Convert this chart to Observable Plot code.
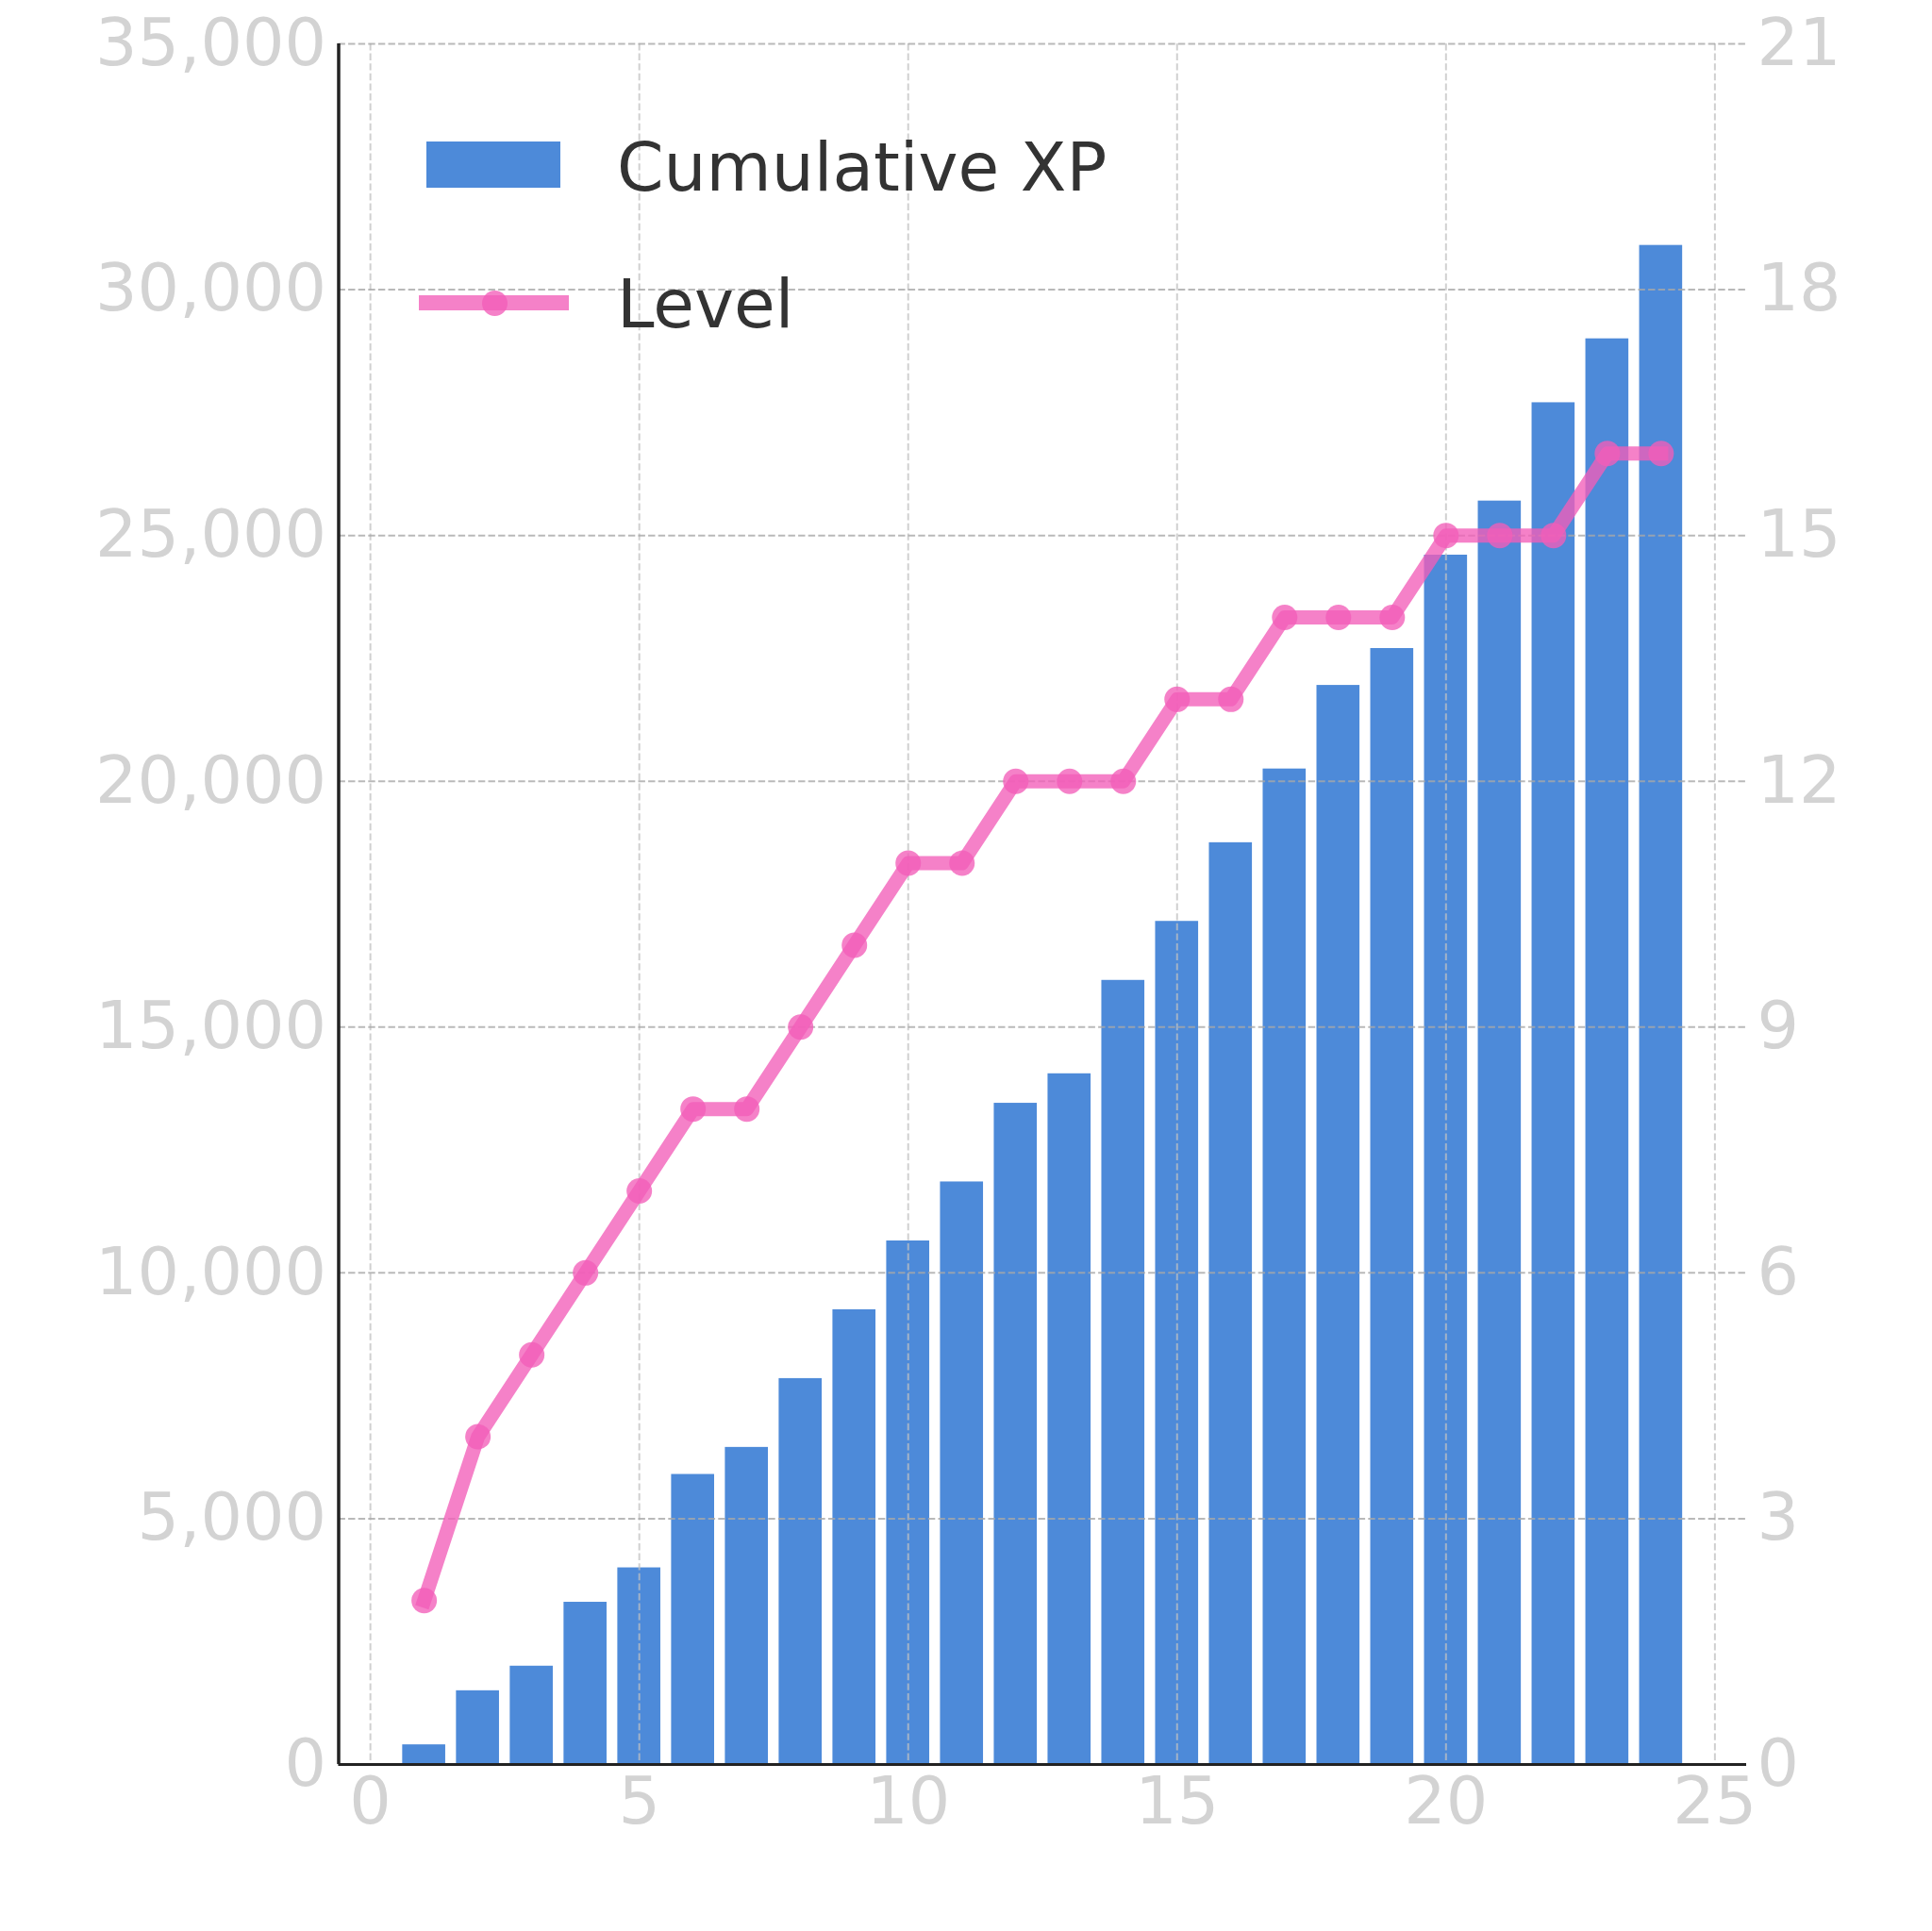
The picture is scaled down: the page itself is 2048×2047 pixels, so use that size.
<!DOCTYPE html>
<html>
<head>
<meta charset="utf-8">
<script src="https://cdn.jsdelivr.net/npm/d3@7"></script>
<script src="https://cdn.jsdelivr.net/npm/@observablehq/plot@0.6"></script>
<style>
  body { margin: 0; background: #fff; }
  #wrap { position: relative; width: 2048px; height: 2047px; font-family: "DejaVu Sans", sans-serif; }
  .abs { position: absolute; }
  .lgtext { position: absolute; font-size: 71px; line-height: 1; color: #333; white-space: nowrap; }
</style>
</head>
<body>
<div id="wrap"></div>
<script>
// ---- data ----
const sessions = [1, 2, 3, 4, 5, 6, 7, 8, 9, 10, 11, 12, 13, 14, 15, 16, 17, 18, 19, 20, 21, 22, 23, 24];
const cumulativeXP = [400, 1500, 2000, 3300, 4000, 5900, 6450, 7850, 9250, 10650, 11850, 13450,
                      14050, 15950, 17150, 18750, 20250, 21950, 22700, 24600, 25700, 27700, 29000, 30900];
const playerLevel = [2, 4, 5, 6, 7, 8, 8, 9, 10, 11, 11, 12, 12, 12, 13, 13, 14, 14, 14, 15, 15, 15, 16, 16];
const xTicks = [0, 5, 10, 15, 20, 25];
const xpTicks = [0, 5000, 10000, 15000, 20000, 25000, 30000, 35000];
const levelTicks = [0, 3, 6, 9, 12, 15, 18, 21];
const seriesNames = ["Cumulative XP", "Level"];

const xDomain = [-0.59, 25.59];
const xpMax = 35000, levelMax = 21;
const ratio = xpMax / levelMax;

const barColor = "#4d8ad9";
const lineColor = "#f25eb9";

const data = sessions.map((x, i) => ({ x, xp: cumulativeXP[i], level: playerLevel[i] }));

const gridV = { stroke: "#c0c0c0", strokeOpacity: 0.75, strokeWidth: 2, strokeDasharray: "7.4,3.2" };
const gridH = { stroke: "#a8a8a8", strokeOpacity: 0.8, strokeWidth: 2, strokeDasharray: "7.4,3.2" };
const tickStyle = { tickSize: 0, fontSize: 70, color: "#d3d3d3", label: null };

const chart = Plot.plot({
  width: 2048,
  height: 2047,
  marginLeft: 358.5,
  marginRight: 197,
  marginTop: 46,
  marginBottom: 177,
  style: { fontFamily: "DejaVu Sans", background: "white" },
  x: { domain: xDomain },
  y: { domain: [0, xpMax] },
  marks: [
    Plot.rectY(data, { x1: d => d.x - 0.4, x2: d => d.x + 0.4, y1: 0, y2: "xp", fill: barColor }),
    Plot.ruleX(xTicks, gridV),
    Plot.ruleY(xpTicks, gridH),
    Plot.ruleY([0], { stroke: "#222", strokeWidth: 3 }),
    Plot.ruleX([xDomain[0]], { stroke: "#222", strokeWidth: 3.5 }),
    Plot.line(data, { x: "x", y: d => d.level * ratio, stroke: lineColor, strokeOpacity: 0.78,
                      strokeWidth: 15, strokeLinejoin: "round", strokeLinecap: "square" }),
    Plot.dot(data, { x: "x", y: d => d.level * ratio, r: 13.5, fill: lineColor, fillOpacity: 0.78, stroke: null }),
    Plot.axisX({ ...tickStyle, ticks: xTicks, tickPadding: 13, tickFormat: d => String(d) }),
    Plot.axisY({ ...tickStyle, ticks: xpTicks, tickPadding: 13, tickFormat: d3.format(",") }),
    Plot.axisY({ ...tickStyle, anchor: "right", ticks: levelTicks.map(v => v * ratio), tickPadding: 11,
                 tickFormat: v => String(Math.round(v / ratio)) })
  ]
});

const wrap = document.getElementById("wrap");
wrap.appendChild(chart);
chart.style.position = "absolute";
chart.style.left = "0px";
chart.style.top = "0px";

// ---- legend (overlay) ----
function el(cls, css, text) {
  const d = document.createElement("div");
  d.className = cls;
  Object.assign(d.style, css);
  if (text) d.textContent = text;
  wrap.appendChild(d);
  return d;
}
el("abs", { left: "452px", top: "150px", width: "142px", height: "49px", background: barColor });
el("lgtext", { left: "654px", top: "142px" }, seriesNames[0]);
el("abs", { left: "444px", top: "313px", width: "159px", height: "16px", background: lineColor, opacity: 0.78 });
el("abs", { left: "510.5px", top: "307.5px", width: "27px", height: "27px", borderRadius: "50%", background: lineColor, opacity: 0.78 });
el("lgtext", { left: "654px", top: "287px" }, seriesNames[1]);
</script>
</body>
</html>
